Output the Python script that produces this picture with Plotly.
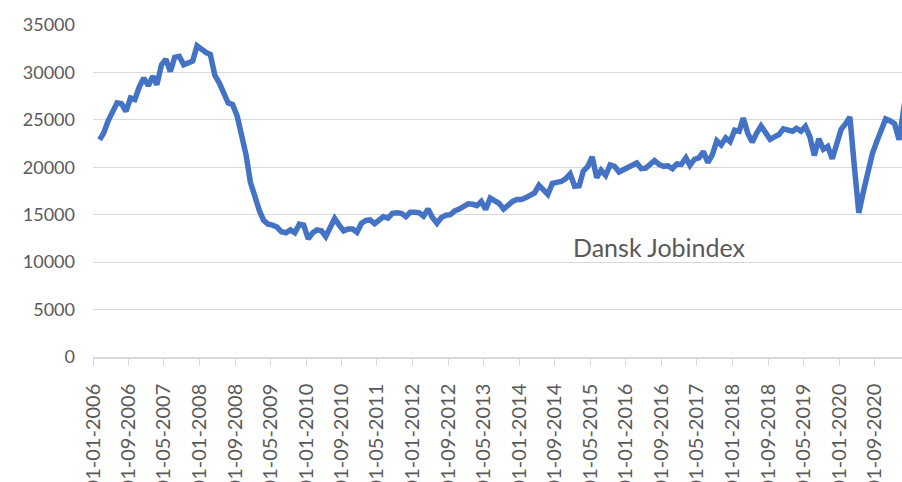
import plotly.graph_objects as go
import pandas as pd

start_month = "2006-01-15"
values = [
    22900, 23600, 24900, 25900, 26800, 26700, 25900, 27300, 27150, 28500, 29400, 28600,
    29600, 28700, 30800, 31400, 30100, 31600, 31700, 30800, 31000, 31200, 32800, 32400,
    32100, 31900, 29700, 28900, 27900, 26800, 26600, 25400, 23400, 21300, 18400, 16700,
    15400, 14400, 14000, 13900, 13700, 13200, 13100, 13400, 13100, 14000, 13900, 12450,
    13100, 13400, 13300, 12700, 13600, 14600, 13900, 13300, 13500, 13500, 13150, 14100,
    14400, 14450, 14050, 14500, 14800, 14650, 15150, 15200, 15150, 14800, 15250, 15250,
    15200, 14850, 15600, 14700, 14100, 14700, 14950, 15000, 15400, 15600, 15800, 16150,
    16100, 15950, 16400, 15550, 16750, 16500, 16200, 15600, 16050, 16400, 16600, 16600,
    16800, 17000, 17300, 18100, 17700, 17150, 18300, 18400, 18500, 18800, 19300, 18000,
    18050, 19600, 20100, 21100, 18900, 19700, 19150, 20250, 20100, 19500, 19700, 19900,
    20200, 20450, 19850, 19900, 20300, 20700, 20300, 20100, 20150, 19850, 20350, 20300,
    21000, 20200, 20850, 21000, 21650, 20500, 21300, 22800, 22350, 23100, 22700, 23900,
    23800, 25200, 23600, 22650, 23600, 24350, 23650, 22950, 23200, 23450, 24050, 23850,
    23800, 24100, 23800, 24300, 23200, 21250, 23000, 21900, 22200, 20900, 22500, 24000,
    24600, 25300, 20000, 15200, 17400, 19500, 21400, 22700, 23900, 25100, 24900, 24600,
    22900, 25400, 29000,
]
dates = pd.date_range(start_month, periods=len(values), freq="MS") + pd.Timedelta(days=14)

tick_dates = [
    "2006-01-01", "2006-09-01", "2007-05-01", "2008-01-01", "2008-09-01", "2009-05-01",
    "2010-01-01", "2010-09-01", "2011-05-01", "2012-01-01", "2012-09-01", "2013-05-01",
    "2014-01-01", "2014-09-01", "2015-05-01", "2016-01-01", "2016-09-01", "2017-05-01",
    "2018-01-01", "2018-09-01", "2019-05-01", "2020-01-01", "2020-09-01",
]
tick_labels = [pd.Timestamp(d).strftime("%d-%m-%Y") for d in tick_dates]
y_ticks = [0, 5000, 10000, 15000, 20000, 25000, 30000, 35000]
y_tick_labels = [str(v) for v in y_ticks]
series_name = "Dansk Jobindex"

fig = go.Figure()
fig.add_trace(go.Scatter(
    x=dates, y=values, mode="lines", name=series_name,
    line=dict(color="#4472C4", width=5.5), showlegend=False,
))

fig.update_layout(
    width=902, height=482,
    margin=dict(l=93, r=0, t=25, b=125),
    paper_bgcolor="white", plot_bgcolor="white",
    font=dict(family="Lato, 'Open Sans', sans-serif", color="#595959"),
    xaxis=dict(
        range=["2006-01-01", "2021-03-07"], automargin=False,
        tickmode="array", tickvals=tick_dates, ticktext=tick_labels,
        tickangle=-90, tickfont=dict(size=20, color="#595959"),
        ticks="outside", ticklen=7, tickcolor="#D9D9D9", tickwidth=1.3,
        showline=True, linecolor="#D9D9D9", linewidth=1.5,
        showgrid=False, zeroline=False, ticklabelstandoff=10,
    ),
    yaxis=dict(
        range=[0, 35000], automargin=False,
        tickmode="array", tickvals=y_ticks, ticktext=y_tick_labels,
        tickfont=dict(size=18, color="#595959"),
        showgrid=True, gridcolor="#D9D9D9", gridwidth=1.3,
        zeroline=False, showline=False, ticks="", ticklabelstandoff=17,
    ),
    annotations=[dict(
        text=series_name, xref="paper", yref="paper", x=0.70, y=0.332,
        showarrow=False, font=dict(size=25, color="#595959"),
        xanchor="center", yanchor="middle",
    )],
)

fig.write_html(
    "out.html",
    config={"displayModeBar": False},
    post_script="document.body.style.margin='0';document.body.style.overflow='hidden';",
)
